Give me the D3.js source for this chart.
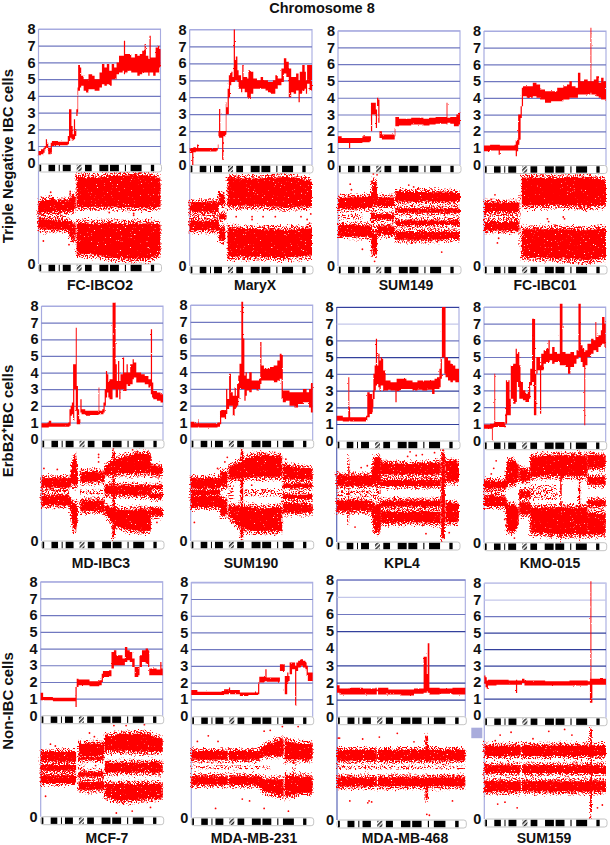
<!DOCTYPE html>
<html><head><meta charset="utf-8">
<script src="https://cdnjs.cloudflare.com/ajax/libs/d3/7.8.5/d3.min.js"></script>
<style>html,body{margin:0;padding:0;background:#fff}svg{display:block}
text{font-family:"Liberation Sans",Arial,sans-serif;fill:#111}</style></head><body>
<div id="chart"></div>
<script>
// ---------- text ----------
const chartTitle = "Chromosome 8";
const cellLines = ["FC-IBCO2","MaryX","SUM149","FC-IBC01","MD-IBC3","SUM190","KPL4","KMO-015","MCF-7","MDA-MB-231","MDA-MB-468","SUM159"];
const copyTicks = [0,1,2,3,4,5,6,7,8];

// ---------- chromosome 8 ideogram, percent of length ----------
const ideoDark = [[0.8,2.2],[8.2,13.6],[16.6,17.4],[19.9,26.4],[38.1,43.6],[49.9,57.2],[58.6,65.9],[70.8,71.7],[75.5,84.5],[92.1,94.8]];
const ideoCentromere = [31.3,35.4];

// ---------- copy number: [position %, low, high] ----------
const cnFcIbco2 = [[0,.45,.7],[2,.5,.8],[4,.6,.9],[5,.8,1],[6,.9,1.4],[7,.8,1.2],[8,.5,.9],[10,.6,1.2],[11,1,1.3],[13,1.05,1.3],[16,1.05,1.25],[20,1.05,1.25],[24,1.1,1.6],[25,1.3,3.2],[26,1.5,3.2],[27,1.4,2.2],[28,1.35,1.7],[29,1.4,2.6],[30,1.6,2],[31,2.8,3.2],[32,3,4.5],[32.5,4.3,5.85],[34,4.5,5.7],[35,4.6,5.2],[37,4.3,5],[39,4.2,5],[41,4.4,5.3],[44,4.4,5.2],[46,4.3,5],[48,4.3,5],[50,4.5,5.4],[52,4.7,5.9],[54,4.6,5.7],[56,4.7,5.9],[58,4.6,5.5],[60,5,5.9],[62,5,5.7],[64,5.3,6],[66,5.4,6.4],[69,5.5,6.4],[70,5.3,7.3],[71,5.4,6.5],[73,5.5,6.5],[76,5.4,6.3],[79,5.4,6.5],[81,5.2,6.4],[83,5.3,6.5],[85,5.4,6.7],[87,5.4,7.1],[88,5.4,6.4],[90,5.2,6.2],[91,5.4,7.6],[92,5.4,6.3],[94,5.2,6.3],[96,5.4,6.9],[98,5.4,7],[99,5.7,6.8],[100,5.8,6.2]];
const cnMaryX = [[0,.7,1],[2,0,1],[3,.75,1.05],[5,.8,1],[6,.8,1.2],[7,.8,1],[12,.8,1],[18,.8,1],[22,.85,1],[23,1,1.2],[23.5,1.7,2],[24,1.6,3.3],[25,1.6,2],[26.5,.3,2],[27.5,1.7,2],[29,1.7,2],[29.5,1.8,3.7],[30,3,3.4],[31,3,4.5],[32,4,5.3],[33,4.7,5.4],[34,4.9,5.5],[35,4.9,5.2],[36,4.9,8],[37,5,6.2],[37.7,5,6.4],[39,4.9,5.6],[40,4.5,5.3],[42,4.3,5],[43,4.5,5.9],[44,4.5,5.2],[45,4.3,5.2],[47,4,5.1],[48,3.9,5.6],[50,4.2,5.5],[52,4.5,5.1],[55,4.5,5],[58,4.5,5.2],[60,4.5,5],[62,4.4,5],[64,4.3,4.9],[66,4.2,4.9],[68,4.2,5],[70,4.5,5.3],[72,4.7,5.1],[75,4.9,5.7],[77,5.4,6.3],[79,5.2,6.1],[81,4,5.7],[83,4.3,5.2],[85,4.2,5.2],[87,4.4,5.4],[89,3.7,5],[90,4.2,5.5],[92,4.4,5.9],[94,4.5,5.5],[95,4.2,5],[96,4.8,5.9],[98,4.4,5.9],[100,4.4,5.8]];
const cnSum149 = [[0,1.3,1.7],[3,1.3,1.6],[9,1,1.6],[10,1.3,1.6],[20,1.35,1.7],[26,1.4,1.7],[27,2,3.7],[28,3,3.7],[30,3,3.7],[31,2.2,3.3],[32,3.5,4],[33,2.5,3.9],[34,1.6,2],[36,1.5,1.8],[40,1.5,1.8],[46,1.5,1.75],[46.5,1.7,2.2],[47,2.3,2.85],[50,2.35,2.75],[60,2.4,2.8],[64,2.4,2.8],[70,2.35,2.75],[75,2.4,2.8],[80,2.45,2.85],[85,2.45,2.85],[89,2.4,3.7],[89.7,2.5,2.8],[92,2.45,2.85],[95,2.3,2.85],[97,2.3,3],[99,2.4,3.1],[100,2.4,2.9]];
const cnFcIbc01 = [[0,.8,1.15],[5,.85,1.2],[12,.6,1.2],[13,.85,1.15],[25,.85,1.2],[26,.5,1.4],[27,.8,1.5],[28,1.2,3],[29,1.5,3],[30,2.8,3.5],[31,3.5,4.6],[32,4.1,4.7],[35,4,4.7],[40,4.1,4.9],[43,4,4.8],[46,3.9,4.5],[50,3.7,4.4],[55,3.8,4.4],[60,3.8,4.6],[65,3.9,4.7],[68,3.9,4.8],[70,4,5],[72,4,4.7],[75,4,4.6],[77,4.2,5.5],[79,4.2,5],[82,4.2,5.1],[85,4.2,5],[87.3,4.3,8.2],[88,4.2,5],[90,4.2,5.1],[92,4.1,5.3],[94,4,4.9],[96,3.9,5.2],[98,3.9,5],[100,3.8,4.8]];
const cnMdIbc3 = [[0,.7,.95],[5,.7,1],[6,.75,1.1],[8,.75,.95],[22,.75,1],[23,.8,1.8],[24,1.4,2],[25,1.5,2.2],[26,1.1,4.5],[27,3,4.5],[28.2,1.7,6.7],[29,.9,3.2],[30,.9,1.8],[31,.9,1.2],[32,1.6,2.4],[33,1.5,1.8],[36,1.4,1.7],[40,1.45,1.7],[47,1.5,3.1],[47.6,1.5,1.7],[50,1.5,1.8],[51,1.6,2.2],[52,2,3],[53,2.5,4.1],[54,2.8,3.9],[55,2.5,3.5],[56,2.4,3.6],[58.5,3,8.2],[60,3,8.2],[61,2.5,4.5],[62,2.5,3.5],[63,3,4.7],[64,2.4,3.5],[65,3,3.9],[67,3,4.9],[68,2.9,4],[70,3.3,4.5],[71,3.2,4],[73,3.3,4.5],[75,3.6,4.8],[76,3.7,4.6],[78,3.4,4],[82,3.4,3.9],[85,3.3,3.8],[88,3.1,3.6],[89.5,3.2,3.6],[90,2.7,6.6],[91,2.5,3.4],[92,2.4,2.9],[95,2.3,2.8],[98,2.2,2.7],[100,2.4,2.8]];
const cnSum190 = [[0,.7,1.05],[3,.7,.95],[6,.75,1.2],[6.5,.7,.95],[22,.75,1],[24,.9,1.7],[25,1.3,1.75],[28,1.2,1.7],[29,1.5,3],[30,1.8,2.4],[31.5,2,3.9],[33,2,2.8],[34.5,1.4,2.6],[36,1.8,3.1],[37,1.9,2.6],[38,2,3.3],[39,2.4,3.8],[40,3,4.5],[41.5,3,8.2],[43,3,6],[44,2.3,3.8],[45,2.6,4],[46,2.9,3.6],[48,2.8,4],[50,3,3.5],[54,2.9,3.5],[56,3,3.6],[57,3.3,5.8],[58,3.5,4.4],[60,3.5,4.2],[65,3.5,4.3],[68,3.4,4.4],[71,3.5,4.7],[73,3.6,5.1],[74.5,2.4,5],[75.5,2.2,2.9],[78,2.3,2.9],[81,2,2.8],[85,1.9,2.8],[88,2.1,2.8],[92,2.2,3],[95,2.2,2.8],[97,1.9,3],[98.5,1.6,3.3],[100,2.2,2.8]];
const cnKpl4 = [[0,1.2,1.5],[5,1.15,1.4],[9.5,1.15,3.8],[10.3,1.2,2],[11,1.15,1.4],[20,1.15,1.4],[24,1.2,1.5],[25,1.4,2.9],[27,1.6,2.8],[29,1.7,2.5],[29.5,2,3],[30,2.5,4],[31,3,4.5],[32,3.3,6.1],[33,3.4,4.5],[34,3.2,5.2],[35,3,4.8],[36,3.3,5],[37,3.3,4.9],[38,3,4.2],[40,3,3.6],[42,3.05,3.6],[44,3,3.5],[48,2.3,3.5],[49,3,3.7],[52,3.1,3.7],[57,3.1,3.6],[62,3,3.5],[66,3.05,3.6],[70,3,3.6],[74,3.05,3.6],[78,2.8,3.6],[80,3.1,3.7],[82,3.1,3.8],[84,3.2,4.3],[85,3.7,5],[86,5,8],[88,4,8],[89,3.8,5],[91,3.6,4.8],[93,3.5,4.6],[95,3.6,4.5],[97,3.5,4.3],[100,3.4,4.2]];
const cnKmo015 = [[0,.7,.95],[5,.7,1],[6.5,0,1],[7.2,.75,1],[8,.8,1.05],[8.5,.8,4],[9.2,.8,1.1],[17,.75,1],[17.5,1,1.6],[18,1,3.6],[19,1.5,3.5],[20,1.5,3.6],[21,1.5,2.5],[22,2.5,4.5],[24,2.2,4.6],[26,2.3,5.5],[27,3.5,5.2],[28,3.2,5.3],[29,2.5,4.5],[30,2.5,3.5],[32,2.4,3],[34,2.3,2.8],[36,2.3,3],[37,2.5,3.5],[38,3.3,4.3],[39.5,3.5,7.3],[41,1.5,7.3],[42,1.5,4],[43,4,5],[44,4.2,5],[46,1.6,4.5],[47,4.2,5.2],[49,4.6,5.4],[51,4.7,5.5],[53,4.7,6],[54,4.8,5.2],[56,4.6,5.6],[58,4.7,5.3],[60,4.7,5.2],[62.3,4.5,8.2],[64.5,4.5,5.3],[67,4.4,5.2],[69,4,5.2],[71,4.4,5.3],[74,4.6,5.1],[76,4.9,5.4],[77.6,5,8.2],[79.5,4.7,5.7],[81,4.4,5.5],[82.4,.9,5.3],[83.2,4.5,5.4],[85,5,5.8],[88,5.2,6.1],[90,5.4,6],[91.5,5.4,7.1],[92.3,5.3,6.2],[94,5.6,6.3],[96,5.7,6.6],[97,5.8,7.4],[99,5.6,7],[100,5.6,6.2]];
const cnMcf7 = [[0,.9,1.35],[2,.9,1.1],[10,.85,1.05],[20,.85,1.05],[28.5,.5,1.7],[29.5,1.7,2.2],[31,1.8,2.15],[40,1.75,2.05],[48,1.8,2.1],[50,2,2.5],[51,2.3,2.65],[56,2.35,2.7],[58,2.8,3.8],[60,3,3.9],[62,3,3.6],[67,3,3.4],[69,3.2,4.1],[71,3.3,3.9],[73,3.2,3.8],[75,2.9,3.4],[77,2.3,2.9],[80,2.4,2.9],[81,2.9,3.6],[83,3.2,3.9],[86,3.1,4],[88,2.9,3.9],[89,2.4,2.8],[95,2.4,2.75],[98,2.4,3.2],[99,2.4,2.8],[100,2.4,2.8]];
const cnMdaMb231 = [[0,1.25,1.55],[5,1.25,1.45],[15,1.25,1.45],[25,1.25,1.5],[27,1.3,1.6],[31,1.35,1.7],[32,1.3,1.55],[40,1.2,1.4],[47,1.25,1.4],[55,1.3,2],[56,2,2.35],[60,2.05,2.4],[61,2.1,2.8],[62,2.05,2.3],[72,2.05,2.3],[73,2.7,3.1],[76,2.7,3.1],[77,1.3,2.4],[78,1.3,2.4],[79,2,2.6],[80,2.1,2.4],[81,2.5,3.2],[83,2.8,3.2],[85,2.8,3.2],[85.5,.6,3],[86.5,2.7,3.2],[88,2.9,3.3],[90,3,3.4],[92,2.9,3.3],[94,2.8,3.2],[95,2.4,3],[96,2.1,2.6],[100,2.2,2.6]];
const cnMdaMb468 = [[0,1.4,1.85],[2,1.3,1.65],[10,1.3,1.7],[20,1.3,1.65],[30,1.3,1.7],[31,1.5,1.6],[32,1.3,1.7],[40,1.3,1.6],[50,1.25,1.6],[60,1.35,1.65],[67.5,1.4,3.5],[70,1.5,2.5],[70.7,1.4,4.3],[72,1.3,1.7],[80,1.35,1.65],[90,1.3,1.7],[100,1.35,1.7]];
const cnSum159 = [[0,1.9,2.4],[1,1.7,2.3],[2,1.6,2.1],[3,1.8,2.15],[10,1.85,2.15],[20,1.85,2.1],[26,1.35,2.15],[27,1.85,2.1],[31,1.95,2.2],[33,1.8,2.1],[50,1.8,2.05],[70,1.8,2.1],[85,1.85,2.05],[86.8,.75,2.2],[87.2,.75,8.1],[88,.75,2.2],[88.8,1.85,2.2],[95,1.85,2.2],[100,1.8,2.2]];

// ---------- allele frequency dense clouds: bands of [position %, low, high] ----------
const bafFcIbco2 = [
 [[0,.53,.66],[3,.56,.70],[12,.57,.70],[24,.57,.69],[26,.57,.73],[29,.58,.76],[30.5,.60,.72]],
 [[0,.38,.52],[3,.37,.49],[12,.37,.48],[24,.37,.47],[26,.30,.46],[29,.24,.44],[30.5,.30,.42]],
 [[31.3,.60,.96],[45,.61,.95],[60,.61,.97],[75,.60,.98],[90,.60,.98],[100,.61,.94]],
 [[31.3,.10,.46],[45,.09,.45],[60,.06,.46],[75,.04,.45],[90,.05,.46],[100,.09,.44]]];
const bafMaryX = [
 [[0,.58,.69],[23.5,.58,.69],[24,.65,.79],[29,.65,.76]],
 [[0,.38,.49],[23.5,.38,.49],[24,.28,.42],[29,.27,.42]],
 [[23.5,.5,.56],[30,.5,.56]],
 [[31,.63,.96],[50,.64,.95],[78,.62,.97],[100,.63,.93]],
 [[31,.09,.42],[50,.09,.41],[78,.08,.40],[100,.10,.42]]];
const bafSum149 = [
 [[0,.61,.74],[27,.62,.75],[28.5,.65,.88],[32,.66,.90]],
 [[0,.32,.45],[27,.31,.44],[28.5,.14,.36],[32,.12,.36]],
 [[27,.5,.56],[46,.5,.56]],
 [[32,.64,.74],[46,.64,.74]],
 [[32,.33,.43],[46,.33,.43]],
 [[47,.69,.80],[70,.69,.80],[100,.69,.79]],
 [[47,.57,.62],[100,.57,.62]],
 [[47,.44,.49],[100,.44,.49]],
 [[47,.28,.37],[75,.28,.37],[100,.29,.37]]];
const bafFcIbc01 = [
 [[0,.58,.69],[29,.58,.69]],
 [[0,.38,.48],[29,.38,.48]],
 [[31,.64,.97],[60,.65,.96],[85,.63,.97],[100,.65,.94]],
 [[31,.09,.41],[60,.07,.41],[85,.05,.40],[100,.08,.42]]];
const bafMdIbc3 = [
 [[0,.57,.68],[23,.57,.68],[24,.62,.74],[26,.6,.88],[28.5,.58,.94],[30,.6,.72]],
 [[0,.38,.49],[23,.38,.49],[24,.32,.45],[26,.12,.42],[28.5,.1,.4],[30,.26,.44]],
 [[32,.63,.75],[52,.64,.74]],
 [[32,.32,.44],[52,.32,.44]],
 [[52,.7,.8],[60,.72,.88],[70,.72,.92],[80,.72,.95],[90,.72,.94]],
 [[52,.5,.6],[90,.48,.6]],
 [[52,.3,.38],[60,.16,.35],[70,.12,.34],[80,.1,.35],[90,.1,.34]],
 [[58.5,.0,1],[60.5,.0,1]],
 [[90,.71,.82],[100,.71,.8]],
 [[90,.56,.6],[100,.56,.6]],
 [[90,.46,.51],[100,.46,.51]],
 [[90,.27,.35],[100,.27,.35]]];
const bafSum190 = [
 [[0,.56,.68],[24,.56,.68],[24.5,.58,.75],[30,.57,.75]],
 [[0,.36,.49],[24,.36,.49],[24.5,.28,.46],[30,.28,.46]],
 [[0,.49,.55],[12,.49,.55],[24,.49,.55]],
 [[31,.66,.8],[40,.67,.85],[50,.68,.92],[60,.68,.93],[75,.68,.92]],
 [[31,.26,.38],[40,.14,.38],[50,.1,.38],[60,.1,.36],[75,.1,.38]],
 [[41,.0,1],[43,.0,1]],
 [[75.5,.66,.82],[100,.66,.78]],
 [[75.5,.57,.62],[100,.57,.62]],
 [[75.5,.45,.5],[100,.45,.5]],
 [[75.5,.3,.42],[100,.3,.4]]];
const bafKpl4 = [
 [[0,.6,.72],[28,.6,.72],[31,.62,.9],[36,.6,.92]],
 [[0,.33,.45],[28,.33,.45],[31,.12,.4],[36,.1,.42]],
 [[9.4,.2,.92],[10.2,.2,.92]],
 [[36,.72,.86],[60,.72,.84],[85,.72,.86]],
 [[36,.6,.67],[85,.6,.67]],
 [[36,.38,.45],[85,.38,.45]],
 [[36,.2,.33],[60,.21,.33],[85,.2,.33]],
 [[85.5,0,1],[88.5,0,1]],
 [[89,.65,.88],[100,.64,.86]],
 [[89,.2,.43],[100,.21,.42]]];
const bafKmo015 = [
 [[0,.58,.67],[17.5,.58,.67],[19,.62,.88],[24,.62,.9],[28.5,.66,.84]],
 [[0,.39,.5],[17.5,.39,.5],[19,.12,.42],[24,.1,.42],[28.5,.18,.38]],
 [[29,.66,.8],[38,.66,.78]],
 [[29,.48,.56],[38,.48,.56]],
 [[29,.3,.44],[38,.3,.44]],
 [[38,.7,.93],[60,.71,.95],[85,.71,.94]],
 [[38,.1,.39],[60,.08,.39],[85,.08,.39]],
 [[85,.8,.95],[100,.8,.94]],
 [[85,.62,.71],[100,.62,.71]],
 [[85,.39,.46],[100,.39,.46]],
 [[85,.08,.33],[100,.08,.33]],
 [[62.6,0,1],[63.8,0,1]],
 [[78,0,1],[79,0,1]]];
const bafMcf7 = [
 [[0,.59,.7],[29,.59,.7]],
 [[0,.36,.45],[29,.36,.45]],
 [[0,.49,.56],[29,.49,.56]],
 [[31,.645,.79],[52,.645,.79]],
 [[31,.61,.645],[52,.61,.645]],
 [[31,.43,.48],[52,.43,.48]],
 [[31,.287,.376],[52,.287,.376]],
 [[52.5,.7,.86],[65,.7,.9],[85,.69,.9],[100,.7,.84]],
 [[52.5,.47,.585],[100,.47,.585]],
 [[52.5,.22,.36],[65,.16,.36],[85,.18,.36],[100,.2,.36]]];
const bafMdaMb231 = [
 [[0,.62,.72],[30,.62,.72]],
 [[0,.35,.45],[30,.35,.45]],
 [[31,.62,.72],[55,.62,.72],[60,.66,.78],[76,.67,.85]],
 [[31,.35,.45],[55,.35,.45],[60,.28,.42],[76,.22,.42]],
 [[77,.62,.83],[90,.62,.8],[100,.62,.8]],
 [[77,.22,.46],[90,.26,.45],[100,.26,.45]]];
const bafMdaMb468 = [
 [[0,.62,.74],[31,.62,.74]],
 [[0,.35,.45],[31,.35,.45]],
 [[32,.62,.74],[100,.62,.74]],
 [[32,.35,.45],[100,.35,.45]],
 [[69,.7,.88],[71,.7,.88]],
 [[69,.22,.4],[71,.22,.4]]];
const bafSum159 = [
 [[0,.67,.79],[30,.67,.79]],
 [[0,.49,.58],[30,.49,.58]],
 [[0,.29,.41],[30,.29,.41]],
 [[31,.67,.79],[100,.67,.79]],
 [[31,.49,.58],[100,.49,.58]],
 [[31,.29,.41],[100,.29,.41]],
 [[87,0,1],[88.5,0,1]]];

// ---------- thin allele frequency rows between the clouds ----------
const thinFcIbco2 = [[[3,.48,.57],[24,.48,.57]]];
const thinMaryX = [[[0,.49,.58],[23,.49,.58]]];
const thinSum149 = [[[0,.5,.56],[20,.5,.56]],[[27,.1,.95],[32,.1,.95]]];
const thinFcIbc01 = [[[0,.49,.57],[29,.49,.57]],[[29,.2,.8],[30,.2,.8]]];
const thinMdIbc3 = [[[0,.49,.57],[23,.49,.57]],[[32,.5,.56],[52,.5,.56]]];
const thinSum190 = [[[31,.44,.6],[36,.44,.6]],[[44,.48,.56],[75,.48,.56]]];
const thinKpl4 = [[[0,.49,.55],[30,.49,.55]],[[30,.1,.93],[36,.1,.93]]];
const thinKmo015 = [[[0,.5,.58],[18,.5,.58]],[[38,.46,.62],[60,.46,.62]]];
const thinMcf7 = [[[31,.5,.56],[36,.5,.56]]];
const thinMdaMb231 = [[[0,.52,.56],[65,.52,.56]],[[84,.45,.85],[86,.45,.85]]];
const thinMdaMb468 = [[[0,.53,.57],[100,.53,.57]]];
const thinSum159 = [];

// ---------- stray allele frequency points: [position %, value] ----------
const strayFcIbco2 = [[9,.74],[10,.78],[10.5,.71],[26,.79],[26,.77],[58,.6],[58,.56],[78,.53],[78,.55],[4,.25],[25,.21],[80,.98],[84,.99]];
const strayMaryX = [[20,.52],[38,.53],[51,.53],[51,.5],[60,.53],[70,.53],[91,.53],[96,.5],[98,.46],[99,.56]];
const straySum149 = [[10,.88],[11,.82],[29,.99],[32,.98],[62,.85],[58,.87],[66,.83],[20,.18],[30,.05],[85,.15],[93,.8]];
const strayFcIbc01 = [[9,.77],[6,.72],[52,.51],[53,.48],[65,.53],[66,.51],[87,.99],[87,.03],[11,.25],[12,.3]];
const strayMdIbc3 = [[47,.93],[47,.85],[47,.9],[13,.77],[75,.98],[90,.9],[2,.78],[70,.13],[95,.2]];
const straySum190 = [[50,.6],[60,.55],[66,.53],[22,.78],[30,.9],[28,.85],[78,.88],[3,.2],[70,.08]];
const strayKpl4 = [[20,.8],[25,.82],[60,.97],[65,.93],[70,.94],[80,.96],[58,.92],[73,.09],[92,.1],[15,.16]];
const strayKmo015 = [[8,.8],[10,.88],[6,.74],[60,.52],[63,.58],[50,.56],[17,.25],[25,.05],[52,.54]];
const strayMcf7 = [[8,.78],[12,.76],[40,.9],[44,.86],[4,.22],[60,.98],[70,.98],[85,.99],[62,.04],[75,.06],[90,.1],[45,.55]];
const strayMdaMb231 = [[14,.88],[22,.82],[20,.1],[5,.82],[60,.93],[65,.94],[75,.98],[88,.98],[48,.18],[42,.2],[60,.1],[80,.07]];
const strayMdaMb468 = [[1,.86],[2,.86],[20,.85],[33,.87],[47,.91],[60,.82],[24,.18],[25,.2],[27,.19],[70,.06],[72,.05],[90,.2],[10,.2]];
const straySum159 = [[9,.84],[13,.9],[22,.93],[53,.94],[66,.96],[72,.9],[11,.16],[27,.12],[17,.18],[93,.12],[97,.15],[40,.86]];

const cnSeries = [cnFcIbco2,cnMaryX,cnSum149,cnFcIbc01,cnMdIbc3,cnSum190,cnKpl4,cnKmo015,cnMcf7,cnMdaMb231,cnMdaMb468,cnSum159];
const bafSeries = [bafFcIbco2,bafMaryX,bafSum149,bafFcIbc01,bafMdIbc3,bafSum190,bafKpl4,bafKmo015,bafMcf7,bafMdaMb231,bafMdaMb468,bafSum159];
const thinSeries = [thinFcIbco2,thinMaryX,thinSum149,thinFcIbc01,thinMdIbc3,thinSum190,thinKpl4,thinKmo015,thinMcf7,thinMdaMb231,thinMdaMb468,thinSum159];
const straySeries = [strayFcIbco2,strayMaryX,straySum149,strayFcIbc01,strayMdIbc3,straySum190,strayKpl4,strayKmo015,strayMcf7,strayMdaMb231,strayMdaMb468,straySum159];

// ---------- layout, separate from data ----------
const W = 610, H = 845, RED = "#ff0000", IDEO_H = 8;
// left, right, y at 8, y at 1, top ideogram y, bottom ideogram y, label centre, label baseline
const frames = [
 [38.5,160.5,29,146,164,264,100,290],[189.7,312,29.5,148,165,266,255,290],[338,460,30.7,148,165,266,406,290],[484,606,31,148,165.5,266,545,290],
 [41.5,163,306,422.5,440,541,101,568],[190.7,312.7,305,422.5,440,541,251,568],[336.7,459,307,424,441,542,402,568],[484,605.7,307,423.7,441.7,542.7,550,568],
 [40.7,162.7,581.7,698.7,715.7,816.7,107,843],[191.3,312.7,582.3,699.3,716.7,817.7,254,843],[337,465.3,579.7,699.7,716.7,820,405,843],[484.3,606,583,698.7,717.7,819,544,843]];
const MID="#7078c0", DARK="#33409c", PALE="#c4c7ea", EDGE="#a7abe0";
const gridColors = {6:{8:DARK,7:PALE,6:MID,5:DARK,4:MID,3:DARK,2:DARK,1:DARK},
 10:{8:MID,7:PALE,6:MID,5:DARK,4:"none",3:DARK,2:DARK,1:DARK},
 11:{8:PALE,7:PALE,6:MID,5:DARK,4:DARK,3:DARK,2:DARK,1:DARK}};
const rowLabels = [["Triple Negative IBC cells",156],["ErbB2⁺IBC cells",421],["Non-IBC cells",701]];

const svg = d3.select("#chart").append("svg").attr("width",W).attr("height",H);
const defs = svg.append("defs");
const hatch = defs.append("pattern").attr("id","hatch").attr("width",3).attr("height",3)
  .attr("patternUnits","userSpaceOnUse").attr("patternTransform","rotate(45)");
hatch.append("rect").attr("width",3).attr("height",3).attr("fill","#fff");
hatch.append("rect").attr("width",1.5).attr("height",3).attr("fill","#222");

function speckle(id,keepSlope,keepOffset,disp,freq){
  const f = defs.append("filter").attr("id",id).attr("x","-5%").attr("y","-5%").attr("width","110%").attr("height","110%")
    .attr("color-interpolation-filters","sRGB");
  f.append("feTurbulence").attr("type","fractalNoise").attr("baseFrequency",freq).attr("numOctaves",2).attr("seed",7).attr("result","n");
  f.append("feDisplacementMap").attr("in","SourceGraphic").attr("in2","n").attr("scale",disp)
    .attr("xChannelSelector","R").attr("yChannelSelector","G").attr("result","d");
  f.append("feColorMatrix").attr("in","n").attr("type","matrix")
    .attr("values",`0 0 0 0 0 0 0 0 0 0 0 0 0 0 0 ${keepSlope} 0 0 0 ${keepOffset}`).attr("result","m");
  f.append("feComposite").attr("in","d").attr("in2","m").attr("operator","in");
}
speckle("fCore",9,-1.6,4,.7);
speckle("fHalo",11,-5,8,.7);
speckle("fThin",11,-5.6,4,.6);
const rough = defs.append("filter").attr("id","fLine").attr("x","-5%").attr("y","-5%").attr("width","110%").attr("height","110%");
rough.append("feTurbulence").attr("type","fractalNoise").attr("baseFrequency",.6).attr("numOctaves",1).attr("seed",3).attr("result","n");
rough.append("feDisplacementMap").attr("in","SourceGraphic").attr("in2","n").attr("scale",2.2)
  .attr("xChannelSelector","R").attr("yChannelSelector","G");

svg.append("text").attr("x",322).attr("y",13).attr("text-anchor","middle")
  .attr("font-size",14.5).attr("font-weight","bold").text(chartTitle);
rowLabels.forEach(([t,cy])=>{
  svg.append("text").attr("transform",`translate(12.5,${cy}) rotate(-90)`).attr("text-anchor","middle")
    .attr("font-size",15).attr("font-weight","bold").text(t);
});
svg.append("rect").attr("x",471.3).attr("y",727.7).attr("width",11).attr("height",10.5).attr("fill","#a9acdc");

cellLines.forEach((name,i)=>{
  const [L,R,y8,y1,ideoT,ideoB,labelX,labelY] = frames[i];
  const g = svg.append("g");
  const x = d3.scaleLinear().domain([0,100]).range([L,R]);
  const y = d3.scaleLinear().domain([1,8]).range([y1,y8]);
  const bafY = d3.scaleLinear().domain([0,1]).range([ideoB,ideoT+IDEO_H]);
  const colors = gridColors[i] || {};

  // frame: top and right edges are pale, left edge runs on through the lower panel
  g.append("path").attr("d",`M${L},${y8}H${R}V${ideoT}`).attr("fill","none").attr("stroke",EDGE).attr("stroke-width",1.1);
  g.append("path").attr("d",`M${L},${y8}V${ideoB}`).attr("fill","none")
    .attr("stroke",i===6||i===10?"#5a66b8":EDGE).attr("stroke-width",1.2);

  // copy-number axis with gridlines
  const ax = g.append("g").attr("transform",`translate(${L},0)`)
    .call(d3.axisLeft(y).tickValues(copyTicks).tickSize(-(R-L)).tickPadding(3).tickFormat(d3.format("d")));
  ax.select(".domain").remove();
  ax.selectAll(".tick line").attr("stroke",d=>d===0?"none":(colors[d]||(d===8?EDGE:MID))).attr("stroke-width",1.2);
  ax.selectAll(".tick text").attr("font-size",14.5).attr("font-weight","bold").attr("fill","#111")
    .attr("font-family",'"Liberation Sans",Arial,sans-serif');

  // lower panel axis: only the 0 tick
  const ax2 = g.append("g").attr("transform",`translate(${L},0)`)
    .call(d3.axisLeft(bafY).tickValues([0]).tickSize(0).tickPadding(3).tickFormat(d3.format("d")));
  ax2.select(".domain").remove();
  ax2.selectAll(".tick text").attr("font-size",14.5).attr("font-weight","bold").attr("fill","#111")
    .attr("font-family",'"Liberation Sans",Arial,sans-serif');

  // lower panel
  const bandArea = (d0,d1,inset)=>d3.area().x(d=>x(d[0]))
    .y0(d=>bafY(d[1]+inset*(d[2]-d[1]))+d0).y1(d=>bafY(d[2]-inset*(d[2]-d[1]))+d1).curve(d3.curveLinear);
  const bands = bafSeries[i];
  g.append("g").attr("filter","url(#fHalo)").selectAll("path").data(bands).join("path")
    .attr("d",bandArea(2.5,-2.5,0)).attr("fill",RED);
  g.append("g").attr("filter","url(#fThin)").selectAll("path").data(thinSeries[i]).join("path")
    .attr("d",bandArea(0,0,0)).attr("fill",RED);
  g.append("g").attr("filter","url(#fCore)").selectAll("path").data(bands).join("path")
    .attr("d",bandArea(0,0,.04)).attr("fill",RED);
  g.append("g").selectAll("circle").data(straySeries[i]).join("circle")
    .attr("cx",d=>x(d[0])).attr("cy",d=>bafY(d[1])).attr("r",.9).attr("fill",RED);

  // ideograms
  [ideoT,ideoB].forEach(top=>{
    const ig = g.append("g").attr("transform",`translate(0,${top})`);
    ig.append("rect").attr("x",L).attr("width",R-L+1).attr("height",IDEO_H).attr("rx",2.5)
      .attr("fill","#fff").attr("stroke","#b5b5b5").attr("stroke-width",.8);
    ig.selectAll("rect.dark").data(ideoDark).join("rect").attr("class","dark")
      .attr("x",d=>x(d[0])).attr("width",d=>x(d[1])-x(d[0])).attr("y",.8).attr("height",IDEO_H-1.6).attr("fill","#000");
    ig.append("rect").attr("x",x(ideoCentromere[0])).attr("width",x(ideoCentromere[1])-x(ideoCentromere[0]))
      .attr("y",.8).attr("height",IDEO_H-1.6).attr("fill","url(#hatch)");
  });

  // copy number trace, above the ideogram
  const cnArea = d3.area().x(d=>x(d[0])).y0(d=>y(d[1])).y1(d=>y(d[2])).curve(d3.curveStepAfter);
  g.append("path").datum(cnSeries[i]).attr("d",cnArea).attr("fill",RED).attr("filter","url(#fLine)");

  g.append("text").attr("x",labelX).attr("y",labelY).attr("text-anchor","middle")
    .attr("font-size",14).attr("font-weight","bold").text(name);
});
</script></body></html>
